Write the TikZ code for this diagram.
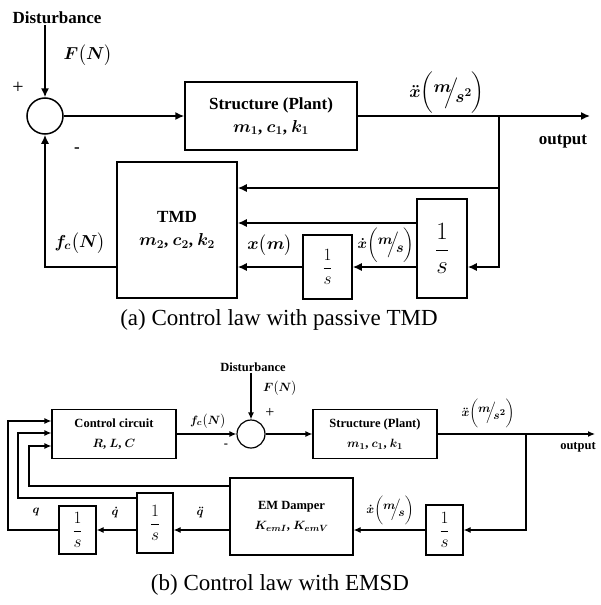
\documentclass[tikz,border=0pt]{standalone}
\usepackage{amsmath}
\usepackage{fontspec}
\setmainfont{Liberation Serif}
\usetikzlibrary{arrows.meta,positioning}

\newcommand{\slfrac}[2]{\raisebox{0.3em}{$#1$}\!\!\Big/\!\raisebox{-0.3em}{$#2$}}

\begin{document}
\begin{tikzpicture}[
    x=1pt, y=-1pt,
    blockA/.style={draw, line width=1.5pt, align=center, inner sep=0pt, font=\fontsize{17}{23}\selectfont\bfseries\boldmath},
    blockB/.style={draw, line width=1.2pt, align=center, inner sep=0pt, font=\fontsize{12.5}{20}\selectfont\bfseries\boldmath},
    intbox/.style={draw, align=center, inner sep=0pt},
    sumnode/.style={draw, circle, inner sep=0pt},
    lblA/.style={inner sep=1pt, font=\fontsize{17}{20}\selectfont\bfseries\boldmath},
    lblB/.style={inner sep=1pt, font=\fontsize{12.5}{15}\selectfont\bfseries\boldmath},
    arrowA/.style={-{Latex[length=9pt,width=8pt]}, line width=1.5pt},
    arrowB/.style={-{Latex[length=7pt,width=6pt]}, line width=1.2pt},
    caption/.style={font=\fontsize{23}{26}\selectfont}
  ]
    \useasboundingbox (0,0) rectangle (600,605);

    % (a) passive TMD
    \node[lblA] (distA) at (57,18) {Disturbance};
    \node[sumnode, line width=1.5pt, minimum size=36pt] (sumA) at (45,116) {};
    \node[blockA, minimum width=172pt, minimum height=68pt] (plantA) at (271,116) {Structure (Plant)\\$m_1$, $c_1$, $k_1$};
    \node[blockA, minimum width=120pt, minimum height=136pt] (tmdA) at (177,230) {TMD\\$m_2$, $c_2$, $k_2$};
    \node[intbox, line width=1.5pt, minimum width=50pt, minimum height=99pt, font=\fontsize{23}{26}\selectfont] (intA1) at (442,248.5) {$\dfrac{1}{s}$};
    \node[intbox, line width=1.5pt, minimum width=49pt, minimum height=64pt, font=\fontsize{19}{22}\selectfont] (intA2) at (327.5,267) {$\dfrac{1}{s}$};
    \coordinate (jA) at (499,116);
    \coordinate (tapA) at (499,188);
    \coordinate (midA) at (417,223);
    \coordinate (outA) at (590,116);

    \node[lblA] (fA) at (88,55) {$F\big(N\big)$};
    \node[font=\fontsize{20}{20}\selectfont] (plusA) at (18,88) {+};
    \node[lblA] (minusA) at (77,150) {-};
    \node[lblA] (accA) at (447,93) {$\ddot{x}\bigg(\slfrac{m}{s^2}\bigg)$};
    \node[lblA] (outlblA) at (563,142) {output};
    \node[lblA] (fcA) at (80,243) {$f_c\big(N\big)$};
    \node[lblA] (posA) at (270,245) {$x\big(m\big)$};
    \node[lblA, font=\fontsize{14}{17}\selectfont\bfseries\boldmath] (velA) at (386,245) {$\dot{x}\bigg(\slfrac{m}{s}\bigg)$};

    \draw[arrowA] (sumA.north |- distA.south) -- (sumA.north);
    \draw[arrowA] (sumA) -- (plantA);
    \draw[arrowA] (plantA.east) -- (outA);
    \draw[arrowA] (jA) |- (intA1.east |- intA2);
    \draw[arrowA] (tapA) -- (tmdA.east |- tapA);
    \draw[arrowA] (midA) -- (tmdA.east |- midA);
    \draw[arrowA] (intA1.west |- intA2) -- (intA2.east);
    \draw[arrowA] (intA2.west) -- (tmdA.east |- intA2);
    \draw[arrowA] (tmdA.west |- intA2) -| (sumA.south);

    \node[caption] (capA) at (279,320) {(a) Control law with passive TMD};

    % (b) EMSD
    \node[lblB] (distB) at (253,367) {Disturbance};
    \node[sumnode, line width=1.2pt, minimum size=28pt] (sumB) at (251,434) {};
    \node[blockB, minimum width=124pt, minimum height=49pt] (ctrlB) at (114,434) {Control circuit\\$R$, $L$, $C$};
    \node[blockB, minimum width=124pt, minimum height=49pt] (plantB) at (375,434) {Structure (Plant)\\$m_1$, $c_1$, $k_1$};
    \node[blockB, minimum width=123pt, minimum height=77pt] (emB) at (291.5,516.5) {EM Damper\\$K_{emI}$, $K_{emV}$};
    \node[intbox, line width=1.2pt, minimum width=37pt, minimum height=50pt, font=\fontsize{16}{18}\selectfont] (intB1) at (444.5,530) {$\dfrac{1}{s}$};
    \node[intbox, line width=1.2pt, minimum width=36pt, minimum height=60pt, font=\fontsize{16}{18}\selectfont] (intB2) at (155,523) {$\dfrac{1}{s}$};
    \node[intbox, line width=1.2pt, minimum width=37pt, minimum height=48pt, font=\fontsize{16}{18}\selectfont] (intB3) at (77.5,530) {$\dfrac{1}{s}$};
    \coordinate (jB) at (526,434);
    \coordinate (outB) at (595,434);
    \coordinate (fb1) at (8,421);
    \coordinate (fb2) at (18,433);
    \coordinate (fb3) at (29,446);

    \node[lblB] (fB) at (280,388) {$F\big(N\big)$};
    \node[font=\fontsize{16}{16}\selectfont] (plusB) at (270,413) {+};
    \node[lblB] (minusB) at (226,446) {-};
    \node[lblB] (fcB) at (208,421) {$f_c\big(N\big)$};
    \node[lblB] (accB) at (488,413) {$\ddot{x}\bigg(\slfrac{m}{s^2}\bigg)$};
    \node[lblB] (outlblB) at (578,447) {output};
    \node[lblB] (velB) at (390,510) {$\dot{x}\bigg(\slfrac{m}{s}\bigg)$};
    \node[lblB] (qddB) at (200,512) {$\ddot{q}$};
    \node[lblB] (qdB) at (115,512) {$\dot{q}$};
    \node[lblB] (qB) at (36,512) {$q$};

    \draw[arrowB] (sumB.north |- distB.south) -- (sumB.north);
    \draw[arrowB] (ctrlB.east) -- (sumB.west);
    \draw[arrowB] (sumB.east) -- (plantB.west);
    \draw[arrowB] (plantB.east) -- (outB);
    \draw[arrowB] (jB) |- (intB1.east);
    \draw[arrowB] (intB1.west) -- (emB.east |- intB1);
    \draw[arrowB] (emB.west |- intB1) -- (intB2.east |- intB1);
    \draw[arrowB] (intB2.west |- intB1) -- (intB3.east);
    \draw[arrowB] (intB3.west) -| (fb1) -- (ctrlB.west |- fb1);
    \draw[arrowB] ([yshift=25pt]intB2.west) -| (fb2) -- (ctrlB.west |- fb2);
    \draw[arrowB] ([yshift=30.5pt]emB.west) -| (fb3) -- (ctrlB.west |- fb3);

    \node[caption] (capB) at (280,585) {(b) Control law with EMSD};
  \end{tikzpicture}
\end{document}
